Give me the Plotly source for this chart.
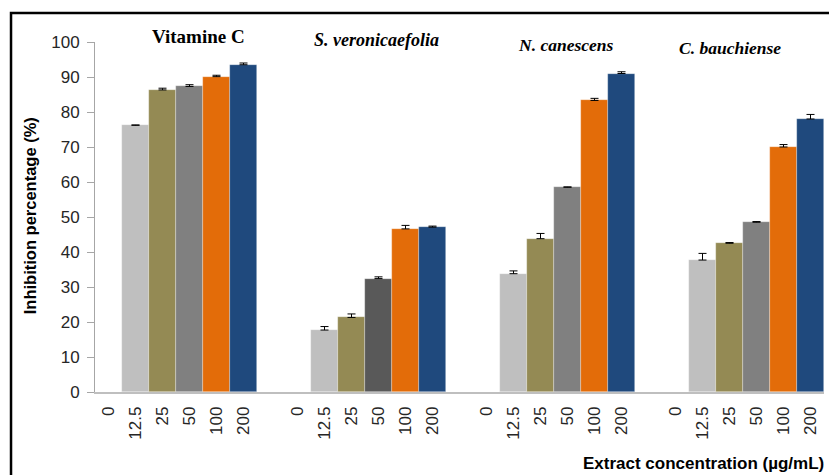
import plotly.graph_objects as go

groups = ["Vitamine C", "S. veronicaefolia", "N. canescens", "C. bauchiense"]
concentrations = ["0", "12.5", "25", "50", "100", "200"]

vitamine_c = [0, 76.2, 86.3, 87.3, 90.1, 93.5]
s_veronicaefolia = [0, 17.7, 21.3, 32.4, 46.6, 47.1]
n_canescens = [0, 33.8, 43.8, 58.5, 83.3, 91.0]
c_bauchiense = [0, 37.7, 42.5, 48.5, 70.0, 78.0]

err_vitamine_c = [0, 0.1, 0.5, 0.5, 0.4, 0.5]
err_s_veronicaefolia = [0, 1.0, 1.0, 0.5, 1.0, 0.3]
err_n_canescens = [0, 0.8, 1.5, 0.1, 0.6, 0.5]
err_c_bauchiense = [0, 1.9, 0.2, 0.2, 0.7, 1.3]

series = [vitamine_c, s_veronicaefolia, n_canescens, c_bauchiense]
errors = [err_vitamine_c, err_s_veronicaefolia, err_n_canescens, err_c_bauchiense]

base_colors = ["#BFBFBF", "#BFBFBF", "#948A54", "#808080", "#E36C09", "#1F497D"]
group_colors = [list(base_colors) for _ in groups]
group_colors[1][3] = "#595959"

fig = go.Figure()
tickvals, ticktext = [], []
for g, (vals, errs) in enumerate(zip(series, errors)):
    xs = [g * 7 + i for i in range(len(concentrations))]
    tickvals += xs
    ticktext += concentrations
    yv = [v if v != 0 else None for v in vals]
    fig.add_trace(go.Bar(
        x=xs, y=yv, width=1,
        marker=dict(color=group_colors[g], line=dict(color="rgba(255,255,255,0.5)", width=0.6)),
        error_y=dict(type="data", array=errs, arrayminus=[0] * len(errs), symmetric=False,
                     color="#000000", thickness=1, width=4),
        showlegend=False, name=groups[g],
    ))

tick_font = dict(family="Liberation Sans, Arial, sans-serif", size=17, color="#262626")

fig.update_layout(
    width=829, height=475,
    margin=dict(l=95, r=5, t=42, b=83),
    paper_bgcolor="white", plot_bgcolor="white",
    bargap=0,
    xaxis=dict(range=[-0.5, 26.5], tickmode="array", tickvals=tickvals, ticktext=ticktext,
               tickangle=-90, ticks="", showgrid=False, zeroline=False,
               showline=True, linecolor="#BFBFBF", linewidth=1.5, tickfont=tick_font,
               ticklabelstandoff=6),
    yaxis=dict(range=[0, 100], dtick=10, showgrid=False, zeroline=False,
               showline=True, linecolor="#A6A6A6", linewidth=1, ticks="outside",
               ticklen=7, tickcolor="#A6A6A6", tickfont=tick_font, ticklabelstandoff=4),
)

serif_title = "Liberation Serif, Times New Roman, serif"
ann_pos = [(0.1413, 1.017, 19, "<b>Vitamine C</b>"),
           (0.3855, 1.006, 18, "<b><i>S. veronicaefolia</i></b>"),
           (0.646, 0.991, 17.5, "<b><i>N. canescens</i></b>"),
           (0.871, 0.984, 17.5, "<b><i>C. bauchiense</i></b>")]
for x, y, s, t in ann_pos:
    fig.add_annotation(x=x, y=y, xref="paper", yref="paper", text=t, showarrow=False,
                       xanchor="center", yanchor="middle",
                       font=dict(family=serif_title, size=s, color="#000000"))

fig.add_annotation(x=-0.0892, y=0.505, xref="paper", yref="paper",
                   text="<b>Inhibition percentage (%)</b>", textangle=-90, showarrow=False,
                   xanchor="center", yanchor="middle",
                   font=dict(family="Liberation Sans, Arial, sans-serif", size=16.5, color="#000000"))
fig.add_annotation(x=1.003, y=-0.203, xref="paper", yref="paper",
                   text="<b>Extract concentration (µg/mL)</b>", showarrow=False,
                   xanchor="right", yanchor="middle",
                   font=dict(family="Liberation Sans, Arial, sans-serif", size=17, color="#000000"))

fig.add_shape(type="rect", xref="paper", yref="paper",
              x0=-0.1152, x1=1.2, y0=-0.5, y1=1.0829,
              line=dict(color="#000000", width=2.5), fillcolor="rgba(0,0,0,0)", layer="above")

fig.write_html("out.html", config={"displayModeBar": False},
               post_script="document.body.style.margin='0';document.body.style.overflow='hidden';")
